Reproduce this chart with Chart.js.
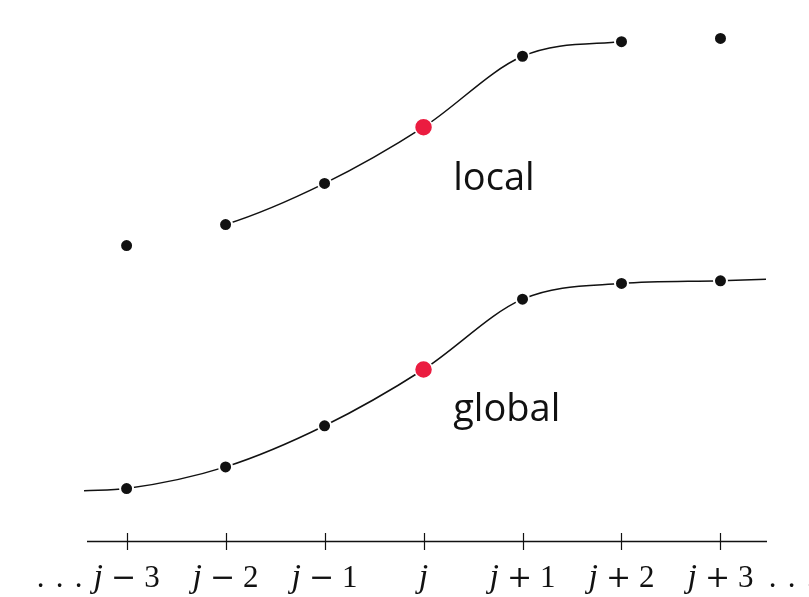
<!DOCTYPE html>
<html>
<head>
<meta charset="utf-8">
<script src="https://cdn.jsdelivr.net/npm/chart.js@4.4.1/dist/chart.umd.min.js"></script>
<style>
  html, body { margin: 0; padding: 0; background: #ffffff; }
  #wrap { width: 809px; height: 597px; }
</style>
</head>
<body>
<div id="wrap"><canvas id="c" width="809" height="597"></canvas></div>
<script>
// grid nodes j-3 ... j+3
const positions = [-3, -2, -1, 0, 1, 2, 3];
const tickLabels = ['j − 3', 'j − 2', 'j − 1', 'j', 'j + 1', 'j + 2', 'j + 3'];

// sampled values at the nodes
const localValues  = [5.46, 5.85, 6.61, 7.65, 8.96, 9.23, 9.29];
const globalValues = [0.97, 1.37, 2.13, 3.17, 4.47, 4.76, 4.81];

// the global curve continues past the outer nodes to the axis ends
const globalEdgeX      = [-3.43, 3.46];
const globalEdgeValues = [0.93, 4.84];

const seriesNames = ['local', 'global'];
const centreIndex = 3;          // node j, highlighted
const localSpan = [1, 5];       // local interpolant only covers j-2 ... j+2

// curve name labels, in data units
const nameAnchors = [
  { x: 0.30, y: 6.49 },
  { x: 0.30, y: 2.22 }
];

const INK = '#111111';
const RED = '#eb1c40';

const localData = positions.map((p, i) => ({ x: p, y: localValues[i] }));
const globalData = [{ x: globalEdgeX[0], y: globalEdgeValues[0] }]
  .concat(positions.map((p, i) => ({ x: p, y: globalValues[i] })))
  .concat([{ x: globalEdgeX[1], y: globalEdgeValues[1] }]);

function nodeStyle(count, offset, edgeless) {
  const radius = [], fill = [], border = [];
  for (let i = 0; i < count; i++) {
    const node = i - offset;
    if (edgeless && (node < 0 || node >= positions.length)) {
      radius.push(0); fill.push(INK); border.push(0);
    } else if (node === centreIndex) {
      radius.push(9); fill.push(RED); border.push(1.5);
    } else {
      radius.push(6.5); fill.push(INK); border.push(2);
    }
  }
  return { radius, fill, border };
}

const localStyle = nodeStyle(localData.length, 0, false);
const globalStyle = nodeStyle(globalData.length, 1, true);

const axisPlugin = {
  id: 'nodeAxis',
  afterDraw(chart) {
    const { ctx, chartArea: a, scales: { x } } = chart;
    ctx.save();

    // axis line with ticks crossing it
    ctx.strokeStyle = INK;
    ctx.lineWidth = 1.4;
    ctx.beginPath();
    ctx.moveTo(a.left, a.bottom + 0.5);
    ctx.lineTo(a.right, a.bottom + 0.5);
    ctx.stroke();
    ctx.lineWidth = 1.2;
    ctx.beginPath();
    positions.forEach(v => {
      const px = Math.round(x.getPixelForValue(v)) + 0.5;
      ctx.moveTo(px, a.bottom - 8);
      ctx.lineTo(px, a.bottom + 9);
    });
    ctx.stroke();

    // math-style tick labels: italic j, operator, integer offset
    const base = a.bottom + 46;
    const fontJ = 'italic 34px "Liberation Serif"';
    const fontOp = '30px "DejaVu Serif"';
    const fontN = '31px "Liberation Serif"';
    ctx.fillStyle = INK;
    ctx.textBaseline = 'alphabetic';
    ctx.textAlign = 'left';
    let firstStart = null, lastEnd = null;
    tickLabels.forEach((lab, i) => {
      const parts = lab.split(' ');
      const fonts = [fontJ, fontOp, fontN];
      const widths = parts.map((p, k) => { ctx.font = fonts[k]; return ctx.measureText(p).width; });
      const gaps = parts.length > 1 ? [8, 8] : [];
      const total = widths.reduce((s, w) => s + w, 0) + gaps.reduce((s, g) => s + g, 0);
      let cur = x.getPixelForValue(positions[i]) - total / 2;
      if (i === 0) firstStart = cur;
      parts.forEach((p, k) => {
        ctx.font = fonts[k];
        ctx.fillText(p, cur, base);
        cur += widths[k] + (gaps[k] || 0);
      });
      if (i === tickLabels.length - 1) lastEnd = cur;
    });

    // ellipses on both ends
    ctx.font = fontN;
    ctx.textAlign = 'center';
    [15, 34, 53].forEach(d => {
      ctx.fillText('.', firstStart - d, base);
      ctx.fillText('.', lastEnd + d + 4, base);
    });

    // curve names
    ctx.font = '38px "Open Sans"';
    ctx.textAlign = 'left';
    const y = chart.scales.y;
    nameAnchors.forEach((n, i) => {
      ctx.fillText(seriesNames[i], x.getPixelForValue(n.x), y.getPixelForValue(n.y));
    });
    ctx.restore();
  }
};

new Chart(document.getElementById('c').getContext('2d'), {
  type: 'line',
  data: {
    datasets: [
      {
        label: seriesNames[0],
        data: localData,
        borderColor: INK,
        borderWidth: 1.5,
        cubicInterpolationMode: 'monotone',
        segment: {
          borderColor: c => (c.p0DataIndex < localSpan[0] || c.p1DataIndex > localSpan[1]) ? 'rgba(0,0,0,0)' : INK
        },
        pointRadius: localStyle.radius,
        pointBackgroundColor: localStyle.fill,
        pointBorderColor: '#ffffff',
        pointBorderWidth: localStyle.border,
        fill: false,
        clip: false
      },
      {
        label: seriesNames[1],
        data: globalData,
        borderColor: INK,
        borderWidth: 1.5,
        cubicInterpolationMode: 'monotone',
        pointRadius: globalStyle.radius,
        pointBackgroundColor: globalStyle.fill,
        pointBorderColor: '#ffffff',
        pointBorderWidth: globalStyle.border,
        fill: false,
        clip: false
      }
    ]
  },
  options: {
    responsive: false,
    animation: false,
    events: [],
    layout: { autoPadding: false, padding: { left: 87, right: 42, top: 0, bottom: 56 } },
    scales: {
      x: { type: 'linear', min: -3.4, max: 3.47, display: false },
      y: { type: 'linear', min: 0, max: 10, display: false }
    },
    plugins: {
      legend: { display: false },
      tooltip: { enabled: false }
    }
  },
  plugins: [axisPlugin]
});
</script>
</body>
</html>
